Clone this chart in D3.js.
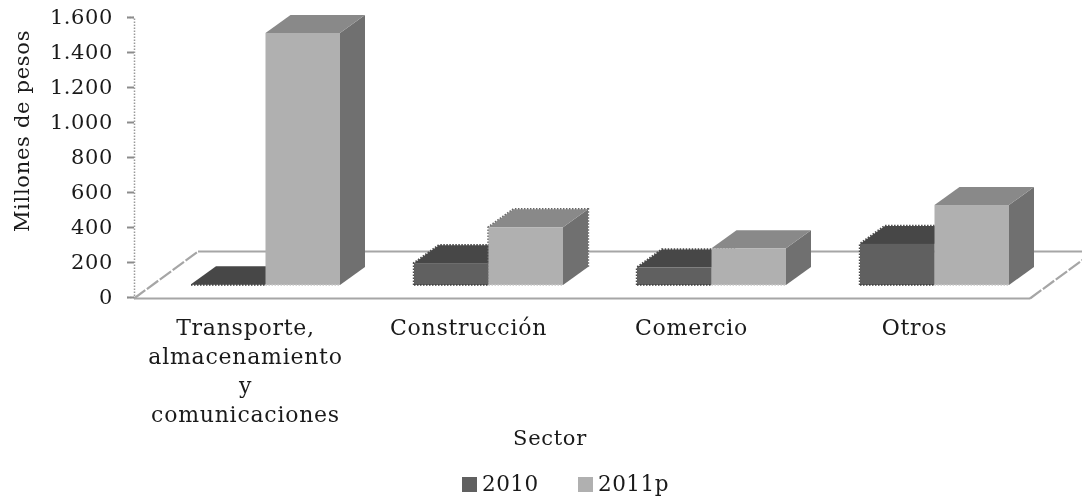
<!DOCTYPE html>
<html>
<head>
<meta charset="utf-8">
<script src="https://cdn.jsdelivr.net/npm/d3@7/dist/d3.min.js"></script>
<style>
  html, body { margin: 0; padding: 0; background: #fff; overflow: hidden; }
  svg { filter: blur(0.4px); }
  text { font-family: "DejaVu Serif", serif; fill: #1a1a1a; }
</style>
</head>
<body>
<div id="chart"></div>
<script>
var categories = ['Transporte,|almacenamiento|y|comunicaciones', 'Construcción', 'Comercio', 'Otros'];
var seriesNames = ['2010', '2011p'];
var values2010 = [5, 125, 100, 235];
var values2011 = [1440, 330, 210, 457];
var yTicks = [0, 200, 400, 600, 800, 1000, 1200, 1400, 1600];

var W = 1082, H = 500;
// floor depth and bar depth, px
var floorDx = 64, floorDy = -47, barDx = 25, barDy = -18;
var baseLift = 12, barShift = 20;

var svg = d3.select('#chart').append('svg').attr('width', W).attr('height', H).style('display', 'block');

var y = d3.scaleLinear().domain([0, 1600]).range([297, 17]);
var x = d3.scaleBand().domain(categories).range([134, 1026]);
var xs = d3.scaleBand().domain(seriesNames).range([0, 149]);

var fmt = d3.formatLocale({ decimal: ',', thousands: '.', grouping: [3], currency: ['', ''] }).format(',');

function label(sel, size, spacing) {
  return sel.attr('font-size', size).attr('letter-spacing', spacing);
}

// Floor
var x0 = 134, x1 = 1030, y0 = y(0) + 1.5;
var floor = svg.append('g').attr('fill', 'none').attr('stroke', '#a6a6a6').attr('stroke-width', 2);
floor.append('line').attr('x1', x0).attr('y1', y0).attr('x2', x1).attr('y2', y0);
floor.append('line').attr('x1', x0 + floorDx).attr('y1', y0 + floorDy).attr('x2', x1 + floorDx).attr('y2', y0 + floorDy);
[x0, x1].forEach(function (fx) {
  floor.append('line').attr('x1', fx).attr('y1', y0).attr('x2', fx + floorDx).attr('y2', y0 + floorDy)
    .attr('stroke-width', 2.2).attr('stroke-dasharray', '14 2');
});

// Y axis
var yAxis = svg.append('g').attr('transform', 'translate(134,0)')
  .call(d3.axisLeft(y).tickValues(yTicks).tickSize(7).tickPadding(14).tickFormat(fmt));
yAxis.select('.domain').attr('stroke', '#999').attr('stroke-width', 1.5).attr('stroke-dasharray', '1.5 1.5');
yAxis.selectAll('.tick line').attr('stroke', '#8c8c8c').attr('stroke-width', 2);
label(yAxis.selectAll('text'), 21, 0.6).style('font-family', '"DejaVu Serif", serif').attr('fill', '#1a1a1a');

// 3D bars
var palette = {
  '2010': { front: '#606060', top: '#474747', side: '#505050', edge: '#3c3c3c' },
  '2011p': { front: '#b0b0b0', top: '#898989', side: '#707070', edge: '#c8c8c8' }
};
// bars whose outline comes out speckled in the source
var speckled = ['Construcción/2010', 'Construcción/2011p', 'Comercio/2010', 'Otros/2010'];

function drawBar(cat, name, v) {
  var c = palette[name];
  var left = x(cat) + x.bandwidth() / 2 + barShift - xs.range()[1] / 2 + xs(name);
  var right = left + xs.bandwidth();
  var base = y(0) - baseLift, top = y(v) - baseLift;
  var g = svg.append('g');
  var pt = function (a, b) { return a + ',' + b; };
  if (speckled.indexOf(cat + '/' + name) >= 0) {
    g.append('polyline').attr('fill', 'none').attr('stroke', name === '2010' ? '#4a4a4a' : '#666')
      .attr('stroke-width', 2.4).attr('stroke-dasharray', '1.5 1.5')
      .attr('points', [pt(left, base), pt(left, top), pt(left + barDx, top + barDy),
        pt(right + barDx, top + barDy), pt(right + barDx, base + barDy)].join(' '));
  }
  g.append('polygon').attr('fill', c.side).attr('points', [
    pt(right, top), pt(right + barDx, top + barDy), pt(right + barDx, base + barDy), pt(right, base)].join(' '));
  g.append('polygon').attr('fill', c.top).attr('points', [
    pt(left, top), pt(left + barDx, top + barDy), pt(right + barDx, top + barDy), pt(right, top)].join(' '));
  g.append('rect').attr('x', left).attr('y', top).attr('width', right - left).attr('height', base - top).attr('fill', c.front);
  // speckled bottom edge
  g.append('line').attr('x1', left).attr('y1', base).attr('x2', right).attr('y2', base)
    .attr('stroke', c.edge).attr('stroke-width', 1.5).attr('stroke-dasharray', '1.5 1.5');
}

categories.forEach(function (cat, i) {
  drawBar(cat, '2010', values2010[i]);
  drawBar(cat, '2011p', values2011[i]);
});

// Category labels
var lineH = 29;
categories.forEach(function (cat) {
  var t = label(svg.append('text').attr('text-anchor', 'middle'), 22, 0.75);
  cat.split('|').forEach(function (line, i) {
    t.append('tspan').attr('x', x(cat) + x.bandwidth() / 2).attr('y', 335 + i * lineH).text(line);
  });
});

// Axis titles
label(svg.append('text').attr('text-anchor', 'middle'), 21, 0.7)
  .attr('x', 550).attr('y', 445).text('Sector');
label(svg.append('text').attr('text-anchor', 'middle'), 21, 0.7)
  .attr('transform', 'translate(29,131) rotate(-90)').text('Millones de pesos');

// Legend
var legendX = [462, 578];
seriesNames.forEach(function (name, i) {
  svg.append('rect').attr('x', legendX[i]).attr('y', 477).attr('width', 15).attr('height', 15)
    .attr('fill', palette[name].front);
  label(svg.append('text'), 21.5, 0.5).attr('x', legendX[i] + 20).attr('y', 491).text(name);
});
</script>
</body>
</html>
